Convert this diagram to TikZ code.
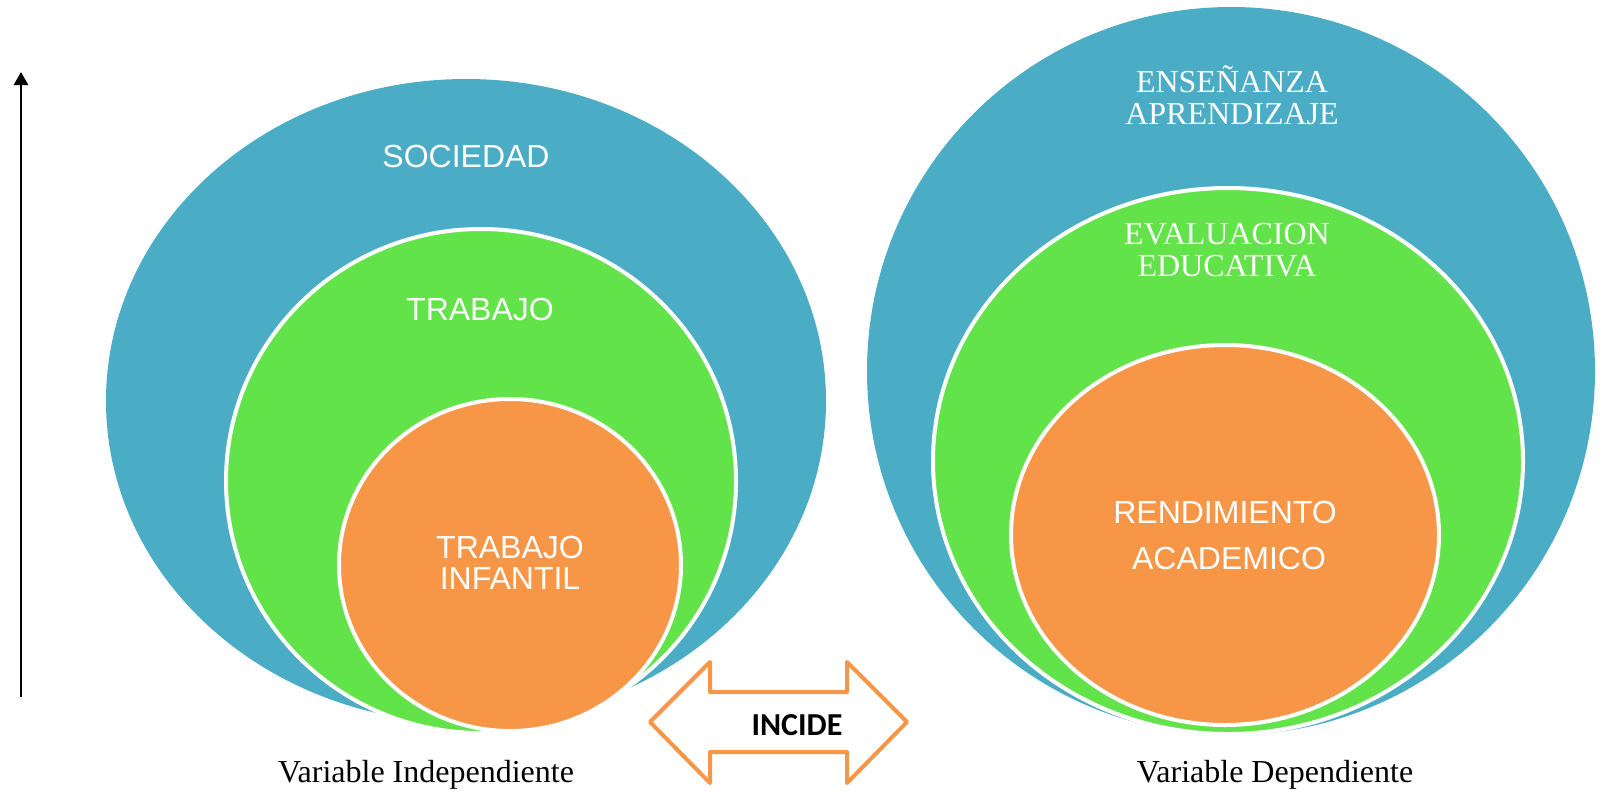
\documentclass[tikz,border=0pt]{standalone}
\usepackage{fontspec}
\setmainfont{Liberation Serif}
\newfontfamily\arialfont{Liberation Sans}
\newfontfamily\calibrifont{Carlito}
\usetikzlibrary{shapes.geometric,arrows.meta,positioning}
\definecolor{capablue}{HTML}{4BACC6}
\definecolor{capagreen}{HTML}{62E34A}
\definecolor{capaorange}{HTML}{F79646}

\begin{document}
\begin{tikzpicture}[x=1pt,y=-1pt,
    capa/.style={ellipse,inner sep=0pt,draw=white,line width=4pt},
    outer/.style={capa,fill=capablue,draw=none},
    middle/.style={capa,fill=capagreen},
    inner/.style={capa,fill=capaorange},
    etiq/.style={text=white,font=\arialfont\fontsize{32}{31}\selectfont,align=center,inner sep=0pt},
    titulo/.style={text=white,font=\fontsize{32}{32}\selectfont,align=center,inner sep=0pt},
    pie/.style={font=\fontsize{32}{36}\selectfont,inner sep=0pt},
    flecha/.style={draw=capaorange,fill=white,line width=4pt,line join=round}]
  \useasboundingbox (0,0) rectangle (1614,798);
  % variable independiente
  \node[outer,minimum width=720pt,minimum height=644pt]  (soc)  at (466,401) {};
  \node[middle,minimum width=510pt,minimum height=504pt] (trab) at (481,481) {};
  \node[inner,minimum width=342pt,minimum height=332pt]  (inf)  at (510,565) {};
  \node[etiq] (tsoc)  at (466,156) {SOCIEDAD};
  \node[etiq] (ttrab) at (480,309) {TRABAJO};
  \node[etiq] (tinf)  at (510,563) {TRABAJO\\INFANTIL};
  % variable dependiente
  \node[outer,minimum width=728pt,minimum height=728pt]  (ens)  at (1231,371) {};
  \node[middle,minimum width=590pt,minimum height=546pt] (eval) at (1228,461) {};
  \node[inner,minimum width=428pt,minimum height=380pt]  (rend) at (1225,535) {};
  \node[titulo] (tens)  at (1232,95)  {ENSEÑANZA\\APRENDIZAJE};
  \node[titulo] (teval) at (1227,250) {EVALUACION\\EDUCATIVA};
  \node[etiq] (trend) at (1225,512) {RENDIMIENTO};
  \node[etiq] (tacad) at (1229,558) {ACADEMICO};
  % incide
  \draw[flecha] (650,722) -- (710,662) -- (710,692) -- (847,692) -- (847,662)
    -- (907,722) -- (847,783) -- (847,752) -- (710,752) -- (710,783) -- cycle;
  \node[font=\calibrifont\bfseries\fontsize{32}{32}\selectfont,inner sep=0pt] (tinc) at (797,725) {INCIDE};
  \node[pie] (vind) at (426,775) {Variable Independiente};
  \node[pie] (vdep) at (1275,775) {Variable Dependiente};
  % eje
  \coordinate (ejeb) at (21,697);
  \coordinate (ejet) at (21,72);
  \path[line width=2.5pt,-{Triangle[width=14pt,length=13pt]}]
    (ejeb) edge (ejet);
\end{tikzpicture}
\end{document}
